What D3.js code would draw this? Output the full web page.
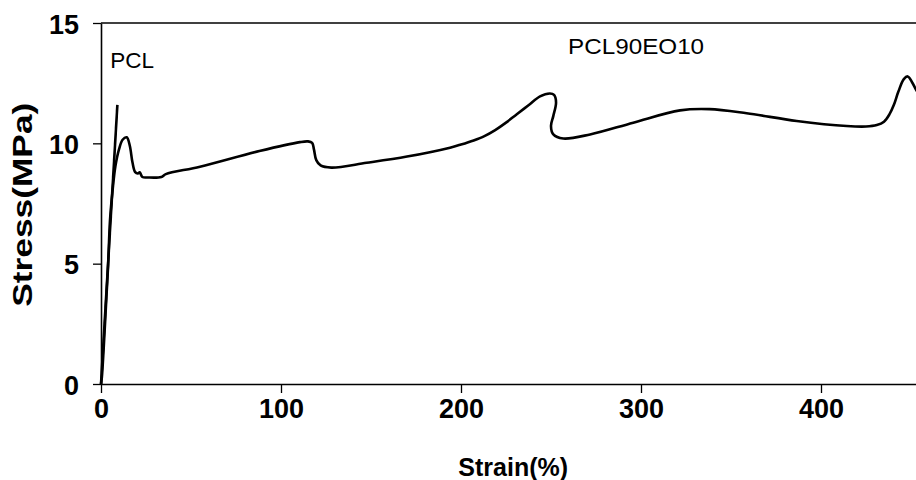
<!DOCTYPE html>
<html>
<head>
<meta charset="utf-8">
<script src="https://cdn.jsdelivr.net/npm/d3@7"></script>
<style>
  html, body { margin: 0; padding: 0; background: #fff; overflow: hidden; }
  svg { display: block; }
  text { font-family: "Liberation Sans", Arial, sans-serif; fill: #000; }
</style>
</head>
<body>
<svg id="chart" width="916" height="480"></svg>
<script>
// Tensile curves: stress (MPa) vs strain (%)
const pclStrain = [0, 9.1];
const pclStress = [0, 11.6];

const blendStrain = [0, 0.5, 1.5, 3, 4, 5, 6.5, 8, 10, 12, 14.3, 16, 17.5, 19, 20.5, 21.5, 23, 26, 33.5, 36,
  55, 88, 110.5, 115, 117.3, 118.3, 119.6, 122, 128, 147.6, 170, 193.9, 200, 207, 213, 219, 225, 231, 237.5, 243.9,
  249.4, 251.7, 252.8, 251.3, 250, 251.3, 256.8, 271.7, 295.7, 321.7, 338, 358.7, 386.5, 414.3, 425, 431, 435,
  438, 440.5, 443, 446, 448.2, 450.5, 453, 456];
const blendStress = [0, 0.3, 1.5, 3.6, 5, 6.8, 8.1, 9.05, 9.75, 10.15, 10.25, 9.9, 9.2, 8.8, 8.75, 8.8, 8.6, 8.58, 8.6, 8.72,
  9.03, 9.68, 10.05, 10.08, 10.02, 9.75, 9.3, 9.08, 8.99, 9.19, 9.45, 9.82, 9.95, 10.12, 10.3, 10.55, 10.86, 11.21, 11.58, 11.95,
  12.07, 12.01, 11.7, 11.14, 10.72, 10.37, 10.2, 10.37, 10.86, 11.37, 11.42, 11.25, 10.93, 10.72, 10.7, 10.76, 10.9,
  11.2, 11.6, 12.15, 12.67, 12.78, 12.55, 12.2, 11.85];

const xTicks = [0, 100, 200, 300, 400];
const yTicks = [0, 5, 10, 15];
const seriesLabels = ["PCL", "PCL90EO10"];
const xTitle = "Strain(%)";
const yTitle = "Stress(MPa)";

const svg = d3.select("#chart");
const plotLeft = 101, plotTop = 23, plotBottom = 384;

const x = d3.scaleLinear().domain([0, 500]).range([plotLeft, plotLeft + 900]);
const y = d3.scaleLinear().domain([0, 15]).range([plotBottom, plotTop]);

// frame: top edge
svg.append("line")
  .attr("x1", x(0)).attr("x2", 916)
  .attr("y1", y(15)).attr("y2", y(15))
  .attr("stroke", "#000").attr("stroke-width", 1.6);

// x axis
const xAxis = svg.append("g")
  .attr("transform", `translate(0,${plotBottom})`)
  .call(d3.axisBottom(x).tickValues(xTicks).tickSize(9).tickSizeOuter(0).tickFormat(d3.format("d")));
xAxis.select(".domain").attr("stroke-width", 1.6);
xAxis.selectAll(".tick line").attr("stroke-width", 1.3);
xAxis.selectAll(".tick text")
  .attr("y", 34).attr("dy", 0)
  .style("font-size", "27px").style("font-weight", "bold");

// y axis
const yAxis = svg.append("g")
  .attr("transform", `translate(${plotLeft},0)`)
  .call(d3.axisLeft(y).tickValues(yTicks).tickSize(8).tickSizeOuter(0));
yAxis.select(".domain").attr("stroke-width", 1.6);
yAxis.selectAll(".tick line").attr("stroke-width", 1.3);
yAxis.selectAll(".tick text")
  .attr("x", -22).attr("y", 10).attr("dy", 0)
  .style("font-size", "27px").style("font-weight", "bold");

// axis titles
svg.append("text")
  .attr("x", x(229)).attr("y", 476)
  .attr("text-anchor", "middle")
  .style("font-size", "25px").style("font-weight", "bold")
  .text(xTitle);

svg.append("text")
  .attr("transform", `translate(32,${y(7.45)}) rotate(-90)`)
  .attr("text-anchor", "middle")
  .attr("textLength", 204).attr("lengthAdjust", "spacingAndGlyphs")
  .style("font-size", "27px").style("font-weight", "bold")
  .text(yTitle);

// curves
const line = d3.line().x(d => x(d[0])).y(d => y(d[1]));

svg.append("path")
  .datum(pclStrain.map((s, i) => [s, pclStress[i]]))
  .attr("d", line)
  .attr("fill", "none").attr("stroke", "#000").attr("stroke-width", 2.6);

svg.append("path")
  .datum(blendStrain.map((s, i) => [s, blendStress[i]]))
  .attr("d", line.curve(d3.curveCatmullRom.alpha(0.5)))
  .attr("fill", "none").attr("stroke", "#000").attr("stroke-width", 2.6)
  .attr("stroke-linejoin", "round");

// curve labels
svg.append("text")
  .attr("x", x(5.2)).attr("y", 68)
  .style("font-size", "22.5px")
  .text(seriesLabels[0]);

svg.append("text")
  .attr("x", x(259.5)).attr("y", 54)
  .attr("textLength", 136).attr("lengthAdjust", "spacingAndGlyphs")
  .style("font-size", "22.5px")
  .text(seriesLabels[1]);
</script>
</body>
</html>
